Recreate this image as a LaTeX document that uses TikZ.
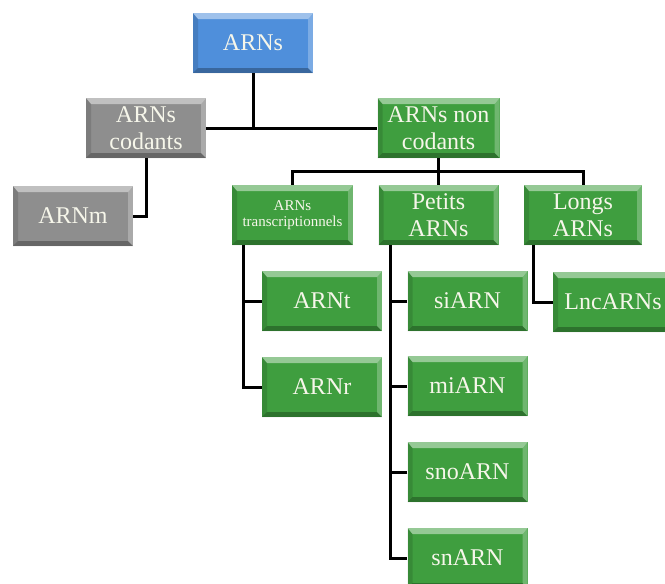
\documentclass[tikz,border=0pt]{standalone}
\usepackage{fontspec}
\setmainfont{Liberation Serif}
\usetikzlibrary{calc}
\definecolor{bluebox}{HTML}{4F8FDB}
\definecolor{graybox}{HTML}{8E8E8E}
\definecolor{greenbox}{HTML}{3F9E3F}
\definecolor{boxtext}{HTML}{F6F6EA}
\tikzset{
  rna/.style={rectangle, minimum width=120pt, minimum height=60pt, inner sep=0pt,
    fill=#1, text=boxtext, align=center,
    font=\fontsize{24}{27}\selectfont,
    path picture={
      \coordinate (pnw) at (path picture bounding box.north west);
      \coordinate (pne) at (path picture bounding box.north east);
      \coordinate (psw) at (path picture bounding box.south west);
      \coordinate (pse) at (path picture bounding box.south east);
      \fill[white,opacity=0.45] (pnw) -- (pne) -- ([xshift=-5pt,yshift=-6pt]pne) -- ([xshift=5pt,yshift=-6pt]pnw) -- cycle;
      \fill[white,opacity=0.25] (pne) -- (pse) -- ([xshift=-5pt,yshift=5pt]pse) -- ([xshift=-5pt,yshift=-6pt]pne) -- cycle;
      \fill[black,opacity=0.28] (psw) -- (pse) -- ([xshift=-5pt,yshift=5pt]pse) -- ([xshift=5pt,yshift=5pt]psw) -- cycle;
      \fill[black,opacity=0.12] (pnw) -- (psw) -- ([xshift=5pt,yshift=5pt]psw) -- ([xshift=5pt,yshift=-6pt]pnw) -- cycle;
    }},
  link/.style={line width=3pt, black},
}
\begin{document}
\begin{tikzpicture}[x=1pt,y=1pt]
\useasboundingbox (0,0) rectangle (665,-584);
\clip (0,0) rectangle (665,-584);
\node[rna=bluebox] (arns) at (253,-43) {ARNs};
\node[rna=graybox] (cod) at (146,-128) {ARNs\\codants};
\node[rna=graybox] (arnm) at (73,-216) {ARNm};
\node[rna=greenbox, minimum width=122pt] (nc) at (438.5,-128) {ARNs non\\codants};
\node[rna=greenbox, minimum width=121pt, font=\fontsize{15}{16}\selectfont] (tr) at (292.5,-215) {ARNs\\transcriptionnels};
\node[rna=greenbox] (pe) at (438.5,-215) {Petits\\ARNs};
\node[rna=greenbox, minimum width=118pt] (lo) at (583,-215) {Longs\\ARNs};
\node[rna=greenbox] (arnt) at (322,-301) {ARNt};
\node[rna=greenbox] (arnr) at (322,-387) {ARNr};
\node[rna=greenbox] (si) at (467.5,-301) {siARN};
\node[rna=greenbox] (mi) at (467.5,-386) {miARN};
\node[rna=greenbox] (sno) at (467.5,-472) {snoARN};
\node[rna=greenbox] (sn) at (467.5,-558) {snARN};
\node[rna=greenbox] (lnc) at (613,-302) {LncARNs};
% connectors
\draw[link] (cod.east) -- (nc.west);
\draw[link] (arns.south) -- (arns.south |- cod.east);
\draw[link] (cod.south) |- (arnm.east);
\draw[link] (nc.south) -- (pe.north);
\draw[link] (tr.north) -- ++(0,13) -| (lo.north);
\coordinate (tv) at ($(tr.south west)+(12,0)$);
\coordinate (pv) at ($(pe.south west)+(12,0)$);
\coordinate (lv) at ($(lo.south west)+(10,0)$);
\draw[link] (tv) |- (arnr.west);
\draw[link] (arnt.west) -- (arnt.west -| tv);
\draw[link] (pv) |- (sn.west);
\draw[link] (si.west) -- (si.west -| pv);
\draw[link] (mi.west) -- (mi.west -| pv);
\draw[link] (sno.west) -- (sno.west -| pv);
\draw[link] (lv) |- (lnc.west);
\end{tikzpicture}
\end{document}
